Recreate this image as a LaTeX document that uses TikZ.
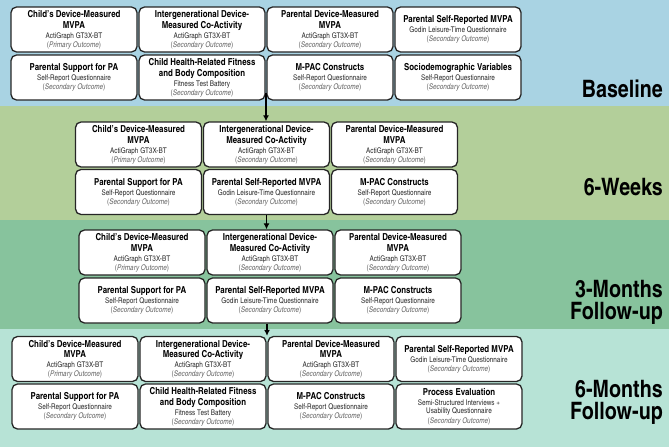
\documentclass[tikz,border=0pt]{standalone}
\usepackage{fontspec}
\setmainfont{texgyreheroscn}[Extension=.otf, UprightFont=*-regular, BoldFont=*-bold, ItalicFont=*-italic, BoldItalicFont=*-bolditalic]
\usetikzlibrary{positioning,arrows.meta,calc}

\definecolor{bandA}{HTML}{A9D3E3}
\definecolor{bandB}{HTML}{B3CF9A}
\definecolor{bandC}{HTML}{87C39D}
\definecolor{bandD}{HTML}{B7E3D6}
\definecolor{boxline}{HTML}{262626}
\definecolor{methgray}{HTML}{2A2A2A}
\definecolor{outgray}{HTML}{666666}

\newcommand{\ttl}{\bfseries\fontsize{9.6}{10.5}\selectfont}
\newcommand{\outc}[3]{{\ttl\begin{tabular}{@{}c@{}}#1\end{tabular}}\\{\color{methgray}\begin{tabular}{@{}c@{}}#2\end{tabular}}\\{\color{outgray}(\textit{#3})}}

% 每个测量指标的文字
\newcommand{\childmvpa}{\outc{Child's Device-Measured\\MVPA}{ActiGraph GT3X-BT}{Primary Outcome}}
\newcommand{\intergen}{\outc{Intergenerational Device-\\Measured Co-Activity}{ActiGraph GT3X-BT}{Secondary Outcome}}
\newcommand{\parentmvpa}{\outc{Parental Device-Measured\\MVPA}{ActiGraph GT3X-BT}{Secondary Outcome}}
\newcommand{\godin}{\outc{Parental Self-Reported MVPA}{Godin Leisure-Time Questionnaire}{Secondary Outcome}}
\newcommand{\support}{\outc{Parental Support for PA}{Self-Report Questionnaire}{Secondary Outcome}}
\newcommand{\fitness}{\outc{Child Health-Related Fitness\\and Body Composition}{Fitness Test Battery}{Secondary Outcome}}
\newcommand{\mpac}{\outc{M-PAC Constructs}{Self-Report Questionnaire}{Secondary Outcome}}
\newcommand{\socio}{\outc{Sociodemographic Variables}{Self-Report Questionnaire}{Secondary Outcome}}
\newcommand{\procev}{\outc{Process Evaluation}{Semi-Structured Interviews +\\Usability Questionnaire}{Secondary Outcome}}

\begin{document}
\begin{tikzpicture}[x=1pt, y=-1pt,
		box/.style={draw=boxline, line width=1.3pt, rounded corners=5.5pt, fill=white,
				minimum width=126pt, minimum height=45pt, inner sep=0pt, align=center,
				font=\fontsize{7.8}{8.5}\selectfont},
		stage/.style={anchor=base east, inner sep=0pt,
				font=\bfseries\fontsize{24}{22}\selectfont},
		flow/.style={-{Latex[length=6pt, width=6pt]}, line width=1.4pt}]
	\useasboundingbox (0, 0) rectangle (669, 447);
	% 四个时间段的背景色带
	\fill[bandA] (0, 0) rectangle (669, 106);
	\fill[bandB] (0, 106) rectangle (669, 220);
	\fill[bandC] (0, 220) rectangle (669, 329);
	\fill[bandD] (0, 329) rectangle (669, 447);

	% Baseline
	\foreach \n/\x/\y/\t in {b11/74/29.5/\childmvpa, b12/202/29.5/\intergen, b13/330/29.5/\parentmvpa, b14/458/29.5/\godin,
			b21/74/77.5/\support, b22/202/77.5/\fitness, b23/330/77.5/\mpac, b24/458/77.5/\socio} {
			\node[box] (\n) at (\x, \y) {\t};
		}
	% 6-Weeks
	\foreach \n/\x/\y/\t in {w11/138.5/144.5/\childmvpa, w12/266.5/144.5/\intergen, w13/394.5/144.5/\parentmvpa,
			w21/138.5/192/\support, w22/266.5/192/\godin, w23/394.5/192/\mpac} {
			\node[box] (\n) at (\x, \y) {\t};
		}
	% 3-Months
	\foreach \n/\x/\y/\t in {m11/142/252.5/\childmvpa, m12/270/252.5/\intergen, m13/398/252.5/\parentmvpa,
			m21/142/300.5/\support, m22/270/300.5/\godin, m23/398/300.5/\mpac} {
			\node[box] (\n) at (\x, \y) {\t};
		}
	% 6-Months
	\foreach \n/\x/\y/\t in {f11/75/359/\childmvpa, f12/203/359/\intergen, f13/331/359/\parentmvpa, f14/459/359/\godin,
			f21/75/406.5/\support, f22/203/406.5/\fitness, f23/331/406.5/\mpac, f24/459/406.5/\procev} {
			\node[box] (\n) at (\x, \y) {\t};
		}

	% 时间段之间的箭头
	\coordinate (a1) at ($(b22.south east)!.5!(b23.south west) + (0, -8)$);
	\draw[flow] (a1) -- (a1 |- w12.north);
	\draw[flow] (w22.south) -- (w22.south |- m12.north);
	\coordinate (a3) at ($(f12.north east)!.5!(f13.north west)$);
	\draw[flow] (m22.south -| a3) -- (a3);

	% 右侧的时间段名称
	\node[stage] (s1) at (663, 97) {Baseline};
	\node[stage] (s2) at (663, 195) {6-Weeks};
	\node[stage] (s3) at (663, 297) {\begin{tabular}[t]{@{}r@{}}3-Months\\[-1.5pt]Follow-up\end{tabular}};
	\node[stage] (s4) at (663, 397) {\begin{tabular}[t]{@{}r@{}}6-Months\\[-1.5pt]Follow-up\end{tabular}};
\end{tikzpicture}
\end{document}
